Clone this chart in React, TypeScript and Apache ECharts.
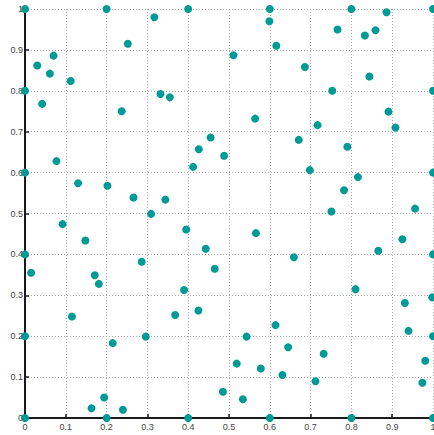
import React, { useEffect, useRef } from "react";
import * as echarts from "echarts";

const xTicks = [0, 0.1, 0.2, 0.3, 0.4, 0.5, 0.6, 0.7, 0.8, 0.9, 1];

const edgeX = [0, 0, 0, 0, 0, 0, 0.2, 0.4, 0.6, 0.8, 1, 1, 1, 1, 1, 1, 0.2, 0.4, 0.6, 0.8];
const edgeY = [1, 0.8, 0.6, 0.4, 0.2, 0, 0, 0, 0, 0, 0, 0.2, 0.4, 0.6, 0.8, 1, 1, 1, 1, 1];

const innerX = [
  0.03, 0.07, 0.061, 0.112, 0.042, 0.252, 0.237,
  0.317, 0.599, 0.616, 0.511, 0.332, 0.355, 0.564, 0.455,
  0.886, 0.766, 0.833, 0.859, 0.686, 0.844, 0.753, 0.891, 0.717, 0.908, 0.671, 0.79,
  0.077, 0.13, 0.202, 0.266, 0.092, 0.148, 0.286, 0.015, 0.171, 0.181,
  0.426, 0.488, 0.412, 0.344, 0.309, 0.395, 0.566, 0.443, 0.465, 0.39,
  0.698, 0.816, 0.782, 0.751, 0.956, 0.925, 0.866, 0.659, 0.81,
  0.115, 0.215, 0.194, 0.163, 0.24, 0.296,
  0.368, 0.425, 0.614, 0.543, 0.645, 0.519, 0.578, 0.631, 0.485, 0.534,
  0.931, 0.998, 0.94, 0.981, 0.732, 0.712, 0.974,
];
const innerY = [
  0.862, 0.886, 0.842, 0.824, 0.768, 0.915, 0.75,
  0.98, 0.97, 0.91, 0.887, 0.792, 0.784, 0.732, 0.686,
  0.992, 0.95, 0.935, 0.948, 0.858, 0.835, 0.8, 0.749, 0.716, 0.71, 0.68, 0.663,
  0.628, 0.574, 0.568, 0.539, 0.474, 0.434, 0.382, 0.355, 0.349, 0.328,
  0.657, 0.641, 0.614, 0.534, 0.499, 0.461, 0.452, 0.414, 0.365, 0.313,
  0.606, 0.589, 0.557, 0.505, 0.512, 0.437, 0.409, 0.393, 0.315,
  0.248, 0.183, 0.05, 0.024, 0.02, 0.199,
  0.252, 0.263, 0.227, 0.199, 0.173, 0.133, 0.121, 0.105, 0.064, 0.046,
  0.281, 0.295, 0.213, 0.14, 0.157, 0.09, 0.086,
];

const fmt = (v: number) => String(Number(v.toFixed(1)));

export default function App() {
  const ref = useRef<HTMLDivElement>(null);
  useEffect(() => {
    const chart = echarts.init(ref.current!, null, { renderer: "svg" });
    const data: number[][] = [];
    edgeX.forEach((x, i) => data.push([x, edgeY[i]]));
    innerX.forEach((x, i) => data.push([x, innerY[i]]));
    const axisCommon = {
      type: "value" as const,
      min: xTicks[0],
      max: xTicks[xTicks.length - 1],
      interval: 0.1,
      axisLine: { show: true, onZero: false, lineStyle: { color: "#1a1a1a", width: 2 } },
      axisTick: { show: true, inside: true, length: 4, lineStyle: { color: "#1a1a1a", width: 1.5 } },
      splitLine: { show: true, lineStyle: { color: "#a8a8a8", width: 1, type: [1, 2] as any } },
      axisLabel: {
        color: "#444",
        fontSize: 9,
        fontFamily: "Liberation Sans, Arial, sans-serif",
        formatter: (v: number) => fmt(v),
      },
    };
    chart.setOption({
      animation: false,
      grid: { left: 25, right: 1, top: 9, bottom: 17, containLabel: false, outerBoundsMode: "none" },
      xAxis: { ...axisCommon, axisLabel: { ...axisCommon.axisLabel, margin: 4 } },
      yAxis: { ...axisCommon, axisLabel: { ...axisCommon.axisLabel, margin: 2 } },
      series: [
        {
          type: "scatter",
          data,
          symbol: "circle",
          symbolSize: 8,
          clip: false,
          itemStyle: { color: "#009a96", opacity: 1 },
        },
      ],
    });
    return () => chart.dispose();
  }, []);
  return (
    <div
      ref={ref}
      style={{ position: "fixed", left: 0, top: 0, width: 434, height: 435, background: "#fff" }}
    />
  );
}
